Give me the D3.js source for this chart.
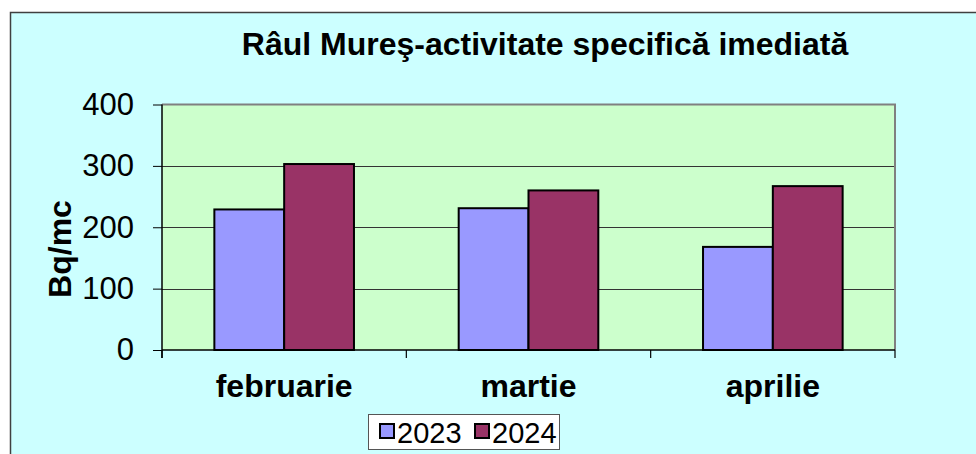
<!DOCTYPE html>
<html>
<head>
<meta charset="utf-8">
<script src="https://cdn.jsdelivr.net/npm/d3@7"></script>
<style>
  html, body { margin: 0; padding: 0; background: #fff; }
  svg { display: block; font-family: "Liberation Sans", Arial, sans-serif; }
</style>
</head>
<body>
<svg id="chart" width="976" height="454"></svg>
<script>
/* ---------- data ---------- */
const months = ["februarie", "martie", "aprilie"];
const years = ["2023", "2024"];
const values2023 = [229, 231, 168];
const values2024 = [303, 260, 267];
const yTicks = [0, 100, 200, 300, 400];
const seriesColors = ["#9999FF", "#993366"];

const rows = months.map((m, i) => ({ month: m, vals: [values2023[i], values2024[i]] }));

/* ---------- frame ---------- */
const svg = d3.select("#chart");
svg.append("rect")
  .attr("x", 10.5).attr("y", 12.5)
  .attr("width", 1000).attr("height", 500)
  .attr("fill", "#CCFFFF")
  .attr("stroke", "#404040")
  .attr("stroke-width", 1.5);

const plot = { left: 162, right: 895, top: 104.5, bottom: 350 };

const x = d3.scaleBand().domain(months).range([plot.left, plot.right]);
const y = d3.scaleLinear().domain([0, 400]).range([plot.bottom, plot.top]);
// excel style: gap width 150% => two bars take 2/3.5 of the band
const barW = x.bandwidth() / 3.5;

/* plot area */
svg.append("rect")
  .attr("x", plot.left).attr("y", plot.top)
  .attr("width", plot.right - plot.left).attr("height", plot.bottom - plot.top)
  .attr("fill", "#CCFFCC");

/* gridlines */
svg.append("g")
  .selectAll("line")
  .data(yTicks.filter(d => d > 0 && d < 400))
  .join("line")
  .attr("x1", plot.left).attr("x2", plot.right)
  .attr("y1", d => Math.round(y(d)) + 0.5).attr("y2", d => Math.round(y(d)) + 0.5)
  .attr("stroke", "#333").attr("stroke-width", 1);

/* gray top/right border of plot */
svg.append("path")
  .attr("d", `M${plot.left},${plot.top} H${plot.right} V${plot.bottom}`)
  .attr("fill", "none")
  .attr("stroke", "#808080")
  .attr("stroke-width", 2);

/* bars */
const groups = svg.append("g")
  .selectAll("g")
  .data(rows)
  .join("g")
  .attr("transform", d => `translate(${x(d.month) + (x.bandwidth() - 2 * barW) / 2},0)`);

groups.selectAll("rect")
  .data(d => d.vals)
  .join("rect")
  .attr("x", (d, i) => i * barW)
  .attr("y", d => y(d))
  .attr("width", barW)
  .attr("height", d => y(0) - y(d))
  .attr("fill", (d, i) => seriesColors[i])
  .attr("stroke", "#000")
  .attr("stroke-width", 2);

/* y axis */
const yAxis = svg.append("g")
  .attr("transform", `translate(${plot.left},0)`)
  .call(d3.axisLeft(y).tickValues(yTicks).tickSize(9).tickPadding(19));
yAxis.select(".domain").attr("stroke", "#000").attr("stroke-width", 1.5)
  .attr("d", `M0,${plot.top}V${plot.bottom + 8}`);
yAxis.selectAll(".tick line").attr("stroke", "#000");
yAxis.selectAll("text")
  .attr("font-size", 31)
  .attr("font-family", "Liberation Sans, Arial, sans-serif")
  .attr("fill", "#000");

/* x axis */
const xAxis = svg.append("g")
  .attr("transform", `translate(0,${plot.bottom})`)
  .call(d3.axisBottom(x).tickSize(0).tickPadding(24));
xAxis.select(".domain").attr("stroke", "#000").attr("stroke-width", 1.5)
  .attr("d", `M${plot.left},0H${plot.right}`);
xAxis.selectAll("text")
  .attr("font-size", 32)
  .attr("font-weight", "bold")
  .attr("font-family", "Liberation Sans, Arial, sans-serif")
  .attr("fill", "#000");
// category separators
svg.append("g")
  .selectAll("line")
  .data(months.concat(["end"]))
  .join("line")
  .attr("x1", (d, i) => i < months.length ? x(d) : plot.right)
  .attr("x2", (d, i) => i < months.length ? x(d) : plot.right)
  .attr("y1", plot.bottom).attr("y2", plot.bottom + 8)
  .attr("stroke", "#000").attr("stroke-width", 1.2);

/* title */
svg.append("text")
  .attr("x", 545).attr("y", 55)
  .attr("text-anchor", "middle")
  .attr("font-size", 32)
  .attr("font-weight", "bold")
  .text("Râul Mureş-activitate specifică imediată");

/* y label */
svg.append("text")
  .attr("transform", "translate(71,249) rotate(-90)")
  .attr("text-anchor", "middle")
  .attr("font-size", 32)
  .attr("font-weight", "bold")
  .text("Bq/mc");

/* legend */
const legend = svg.append("g").attr("transform", "translate(368,414)");
legend.append("rect")
  .attr("x", 0.5).attr("y", 0.5)
  .attr("width", 191).attr("height", 35)
  .attr("fill", "#fff")
  .attr("stroke", "#555")
  .attr("stroke-width", 1);
const items = legend.selectAll("g.item")
  .data(years)
  .join("g")
  .attr("class", "item")
  .attr("transform", (d, i) => `translate(${12 + i * 95},0)`);
items.append("rect")
  .attr("x", 0).attr("y", 10)
  .attr("width", 14).attr("height", 14)
  .attr("fill", (d, i) => seriesColors[i])
  .attr("stroke", "#000")
  .attr("stroke-width", 2);
items.append("text")
  .attr("x", 17).attr("y", 29)
  .attr("font-size", 29)
  .text(d => d);
</script>
</body>
</html>
